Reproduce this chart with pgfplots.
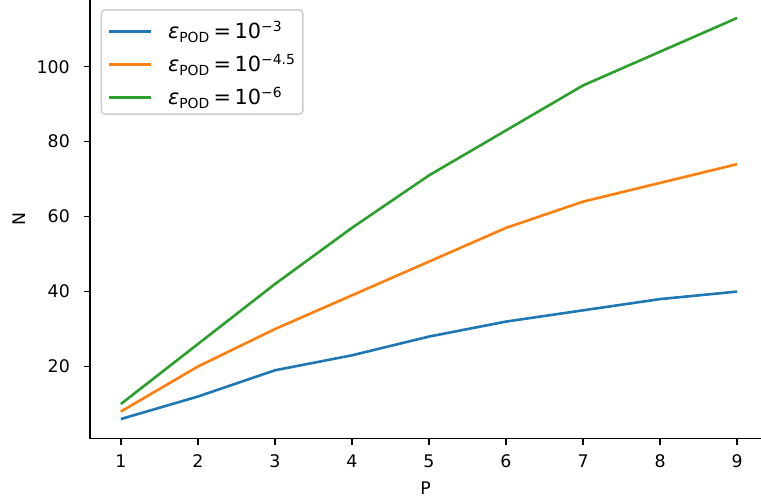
\documentclass[border=0pt]{standalone}
\usepackage{fontspec}
\setmainfont{DejaVu Sans}
\usepackage{pgfplots}
\pgfplotsset{compat=1.18}
\definecolor{tabblue}{HTML}{1F77B4}
\definecolor{taborange}{HTML}{FF7F0E}
\definecolor{tabgreen}{HTML}{2CA02C}
\newcommand{\eps}[1]{{\itshape ε}\textsubscript{POD}\,=\,10\textsuperscript{−#1}\hspace*{0.5pt}}
\begin{document}
\begin{tikzpicture}
\begin{axis}[
  name=ax,
  scale only axis,
  width=386.5pt, height=252.7pt,
  xmin=0.6, xmax=9.31,
  ymin=0.75, ymax=117.79,
  axis x line*=bottom, axis y line*=left,
  axis line style={-, line width=0.8pt, black},
  xtick={1,...,9},
  ytick={20,40,60,80,100},
  tick align=outside,
  major tick length=3.5pt,
  tick style={line width=0.8pt, black},
  /pgf/number format/assume math mode=true,
  ticklabel style={font=\fontsize{10}{12}\selectfont},
  yticklabel style={xshift=-4.6pt},
  xticklabel style={yshift=-2.4pt},
  xlabel={P}, ylabel={N},
  label style={font=\fontsize{10}{12}\selectfont},
  xlabel style={at={(axis description cs:0.5,-0.1128)}, anchor=center},
  ylabel style={at={(axis description cs:-0.1058,0.5)}, anchor=center},
  legend cell align=left,
  legend style={
    at={(axis description cs:0.016,0.979)}, anchor=north west,
    draw={black!20}, fill=white, rounded corners=2pt,
    line width=0.8pt,
    font=\fontsize{12}{14}\selectfont,
    inner xsep=3.6pt, inner ysep=1.5pt,
    row sep=0pt, column sep=9.2pt,
    nodes={inner xsep=0pt, inner ysep=0pt, text height=15.2pt, text depth=3.8pt},
  },
  legend image code/.code={\draw[#1, line width=1.6pt] (0pt,-1.4pt) -- (24pt,-1.4pt);},
]
\addplot[tabblue, line width=1.5pt] coordinates {(1,6) (2,12) (3,19) (4,23) (5,28) (6,32) (7,35) (8,38) (9,40)};
\addlegendentry{\eps{3}}
\addplot[taborange, line width=1.5pt] coordinates {(1,8) (2,20) (3,30) (4,39) (5,48) (6,57) (7,64) (8,69) (9,74)};
\addlegendentry{\eps{4.5}}
\addplot[tabgreen, line width=1.5pt] coordinates {(1,10) (2,26) (3,42) (4,57) (5,71) (6,83) (7,95) (8,104) (9,113)};
\addlegendentry{\eps{6}}
\end{axis}
\pgfresetboundingbox
\useasboundingbox (ax.south west) ++(-51.84pt,-37.58pt) rectangle (ax.north east);
\end{tikzpicture}
\end{document}
